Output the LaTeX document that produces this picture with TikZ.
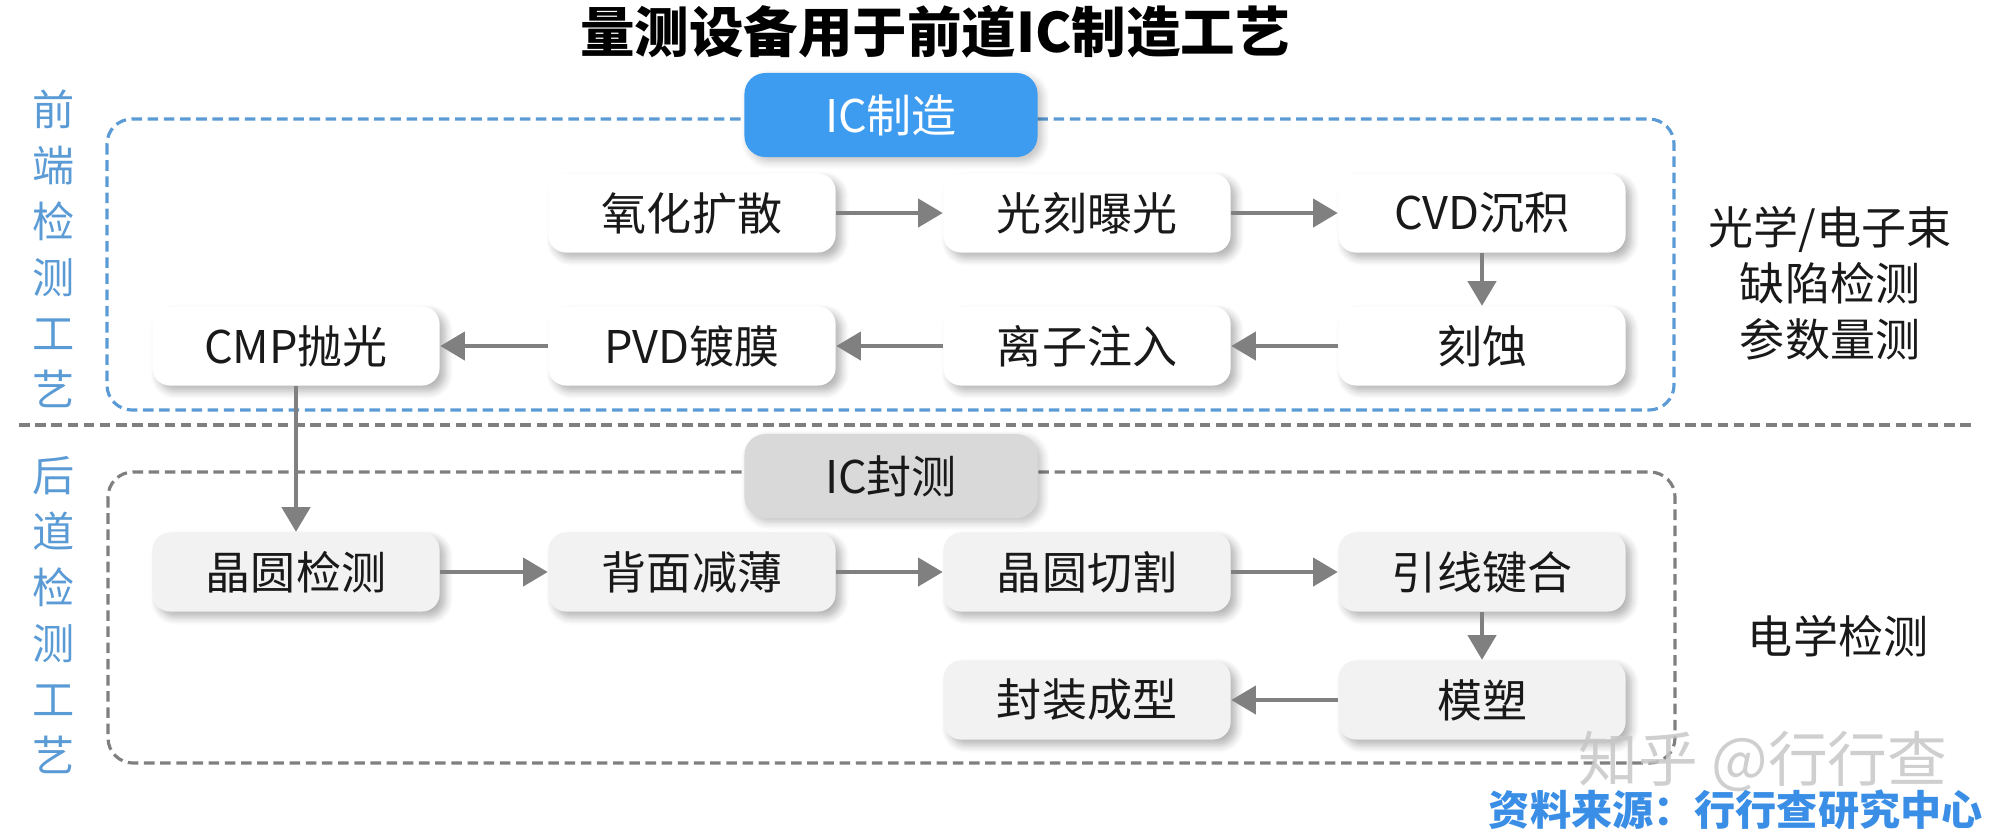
\documentclass[tikz,border=0pt]{standalone}
\usepackage{fontspec}
\setmainfont{Noto Sans CJK SC}
\usetikzlibrary{arrows.meta,positioning,shadows.blur}
\definecolor{icblue}{RGB}{61,155,240}
\definecolor{dashblue}{RGB}{91,155,213}
\definecolor{dashgray}{RGB}{127,127,127}
\definecolor{flowgray}{RGB}{128,128,128}
\definecolor{backfill}{RGB}{242,242,242}
\definecolor{tagfill}{RGB}{217,217,217}
\definecolor{srcblue}{RGB}{58,142,230}
\tikzset{
  icstep/.style={rounded corners=5pt, minimum width=2.87cm, minimum height=0.79cm, inner sep=0pt, text=black!90, font=\fontsize{12.8}{15}\selectfont, blur shadow={shadow xshift=1.6pt, shadow yshift=-1.6pt, shadow blur steps=6, shadow opacity=30}},
  icfront/.style={icstep, fill=white},
  icback/.style={icstep, fill=backfill},
  ictag/.style={rounded corners=6pt, minimum width=2.93cm, minimum height=0.84cm, inner sep=0pt, font=\fontsize{12.8}{15}\selectfont, blur shadow={shadow xshift=1.2pt, shadow yshift=-1.2pt, shadow blur steps=6, shadow opacity=25}},
  icframe/.style={rounded corners=0.25cm, line width=0.9pt, dash pattern=on 3pt off 1.6pt},
  icline/.style={-{Triangle[length=7pt,width=8pt]}, line width=1.1pt, draw=flowgray, fill=flowgray},
  iclabel/.style={align=center, text=dashblue, font=\fontsize{12}{15.9}\selectfont}
}
\begin{document}
\begin{tikzpicture}[x=0.01cm, y=-0.01cm]
  \useasboundingbox (0,0) rectangle (2000,838);
  \node[font=\fontsize{15.5}{18}\selectfont\bfseries] (title) at (935,32) {量测设备用于前道IC制造工艺};

  \draw[icframe, draw=dashblue] (107,119) rectangle (1674,410);
  \draw[icframe, draw=dashgray] (108,472) rectangle (1675,763);
  \draw[dashgray, line width=1.1pt, dash pattern=on 3pt off 1.6pt] (19,425) -- (1975,425);

  \node[iclabel] (frontlabel) at (54,249) {前\\端\\检\\测\\工\\艺};
  \node[iclabel] (backlabel) at (54,615) {后\\道\\检\\测\\工\\艺};

  \node[ictag, fill=icblue, text=white] (fab) at (891,115) {IC制造};
  \node[ictag, fill=tagfill, text=black!90] (pkg) at (891,476) {IC封测};

  \node[icfront] (oxid) at (692,213) {氧化扩散};
  \node[icfront] (litho) at (1087,213) {光刻曝光};
  \node[icfront] (cvd) at (1482,213) {CVD沉积};
  \node[icfront] (cmp) at (296,346) {CMP抛光};
  \node[icfront] (pvd) at (692,346) {PVD镀膜};
  \node[icfront] (implant) at (1087,346) {离子注入};
  \node[icfront] (etch) at (1482,346) {刻蚀};

  \node[icback] (inspect) at (296,572) {晶圆检测};
  \node[icback] (thin) at (692,572) {背面减薄};
  \node[icback] (dicing) at (1087,572) {晶圆切割};
  \node[icback] (bond) at (1482,572) {引线键合};
  \node[icback] (pack) at (1087,700) {封装成型};
  \node[icback] (mold) at (1482,700) {模塑};

  \draw[icline] (oxid) -- (litho);
  \draw[icline] (litho) -- (cvd);
  \draw[icline] (cvd) -- (etch);
  \draw[icline] (etch) -- (implant);
  \draw[icline] (implant) -- (pvd);
  \draw[icline] (pvd) -- (cmp);
  \draw[icline] (cmp) -- (inspect);
  \draw[icline] (inspect) -- (thin);
  \draw[icline] (thin) -- (dicing);
  \draw[icline] (dicing) -- (bond);
  \draw[icline] (bond) -- (mold);
  \draw[icline] (mold) -- (pack);

  \node[align=center, text=black!90, font=\fontsize{12.8}{15.9}\selectfont] (optic) at (1830,283) {光学/电子束\\缺陷检测\\参数量测};
  \node[text=black!90, font=\fontsize{12.8}{15}\selectfont] (elec) at (1838,636) {电学检测};

  \node[text=black!22, font=\fontsize{17}{20}\selectfont, opacity=0.85] (mark) at (1763,762) {知乎 @行行查};
  \node[anchor=east, text=srcblue, font=\fontsize{11.7}{14}\selectfont\bfseries] (src) at (1995,810) {资料来源：行行查研究中心};
\end{tikzpicture}
\end{document}
